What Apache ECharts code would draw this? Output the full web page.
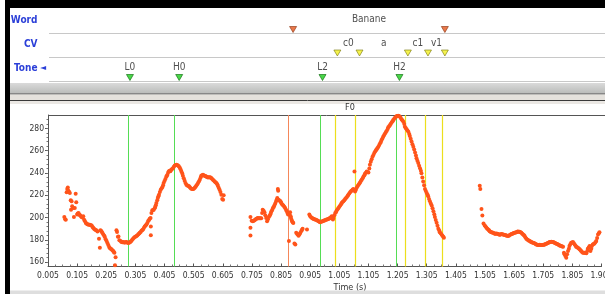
<!DOCTYPE html>
<html>
<head>
<meta charset="utf-8">
<script src="https://cdn.jsdelivr.net/npm/echarts@6/dist/echarts.min.js"></script>
<style>
  html, body { margin: 0; padding: 0; background: #fff; }
  #chart { width: 605px; height: 294px; }
</style>
</head>
<body>
<div id="chart"></div>
<script>
// F0 track (time in s, F0 in Hz), one array per voiced stretch
const segA = [[0.061,200.5],[0.064,198.5],[0.066,198],[0.069,222.6],[0.071,225.5],[0.073,227],[0.075,224],[0.077,223],[0.080,222],[0.083,215.4],[0.086,214.5],[0.084,207],[0.088,210],[0.092,208.6],[0.094,200.5],[0.097,208.6],[0.100,221.4],[0.102,213.6],[0.105,202.6],[0.107,203.5],[0.110,204],[0.113,202.5],[0.115,202],[0.118,201],[0.120,200.5],[0.123,200],[0.126,201],[0.129,198],[0.132,196.7],[0.135,195],[0.137,194.6],[0.140,194],[0.143,193.7],[0.146,193.5],[0.149,193.4],[0.152,193],[0.155,192.8],[0.158,191.5],[0.160,190.7],[0.163,190],[0.166,189.2],[0.169,188.8],[0.172,188.3],[0.175,187.5],[0.180,181],[0.183,172.9],[0.185,188.5],[0.187,188],[0.190,187],[0.192,186],[0.195,184.8],[0.198,183.5],[0.200,182.4],[0.203,180.5],[0.206,178.8],[0.209,177],[0.212,175.2],[0.215,173.5],[0.217,172.6],[0.220,172],[0.223,171.4],[0.226,170.5],[0.229,169.9],[0.231,169],[0.233,168.4],[0.237,164.2],[0.235,157.1]];
const segB = [[0.240,188.6],[0.242,187],[0.245,182.7],[0.247,183],[0.250,179.5],[0.254,178.8],[0.257,178],[0.260,177.8],[0.263,177.9],[0.266,177.5],[0.269,177.6],[0.272,177.8],[0.274,178],[0.277,177.5],[0.280,177.2],[0.283,177.3],[0.286,177.8],[0.288,178.2],[0.291,178.8],[0.294,180],[0.297,181],[0.300,181.8],[0.303,182.5],[0.306,183],[0.309,183.3],[0.312,184],[0.315,185],[0.318,185.7],[0.320,186.2],[0.323,187],[0.326,188],[0.329,188.8],[0.331,189.2],[0.334,190.5],[0.337,191.8],[0.340,192.8],[0.343,193.7],[0.346,195],[0.349,196.8],[0.351,197.6],[0.354,198.8],[0.357,199.6],[0.358,192],[0.358,184],[0.360,204],[0.363,206.5],[0.366,206.8],[0.368,207],[0.371,208.3],[0.373,209.5],[0.375,211],[0.377,213],[0.380,215.5],[0.382,217.5],[0.384,219],[0.386,220.5],[0.389,222.8],[0.392,225],[0.395,226.2],[0.398,227.3],[0.400,229],[0.402,231],[0.405,232.8],[0.408,234.5],[0.411,236.5],[0.413,237.5],[0.415,238.3],[0.418,240.5],[0.420,241.5],[0.423,241.9],[0.425,241.6],[0.428,242.8],[0.431,243.5],[0.434,244.3],[0.437,245.5],[0.440,246.7],[0.443,247],[0.446,247.3],[0.449,247],[0.451,246.7],[0.454,246],[0.457,244.9],[0.460,243.2],[0.463,241.3],[0.466,239.5],[0.468,237.4],[0.471,235.2],[0.474,233],[0.477,231],[0.480,229.4],[0.483,228.8],[0.486,228.5],[0.489,228],[0.491,227.3],[0.494,226.5],[0.497,225.8],[0.500,225.6],[0.503,225.5],[0.505,225.8],[0.508,226.4],[0.511,227.3],[0.514,228.5],[0.517,229.6],[0.520,230.9],[0.523,232.3],[0.526,233.9],[0.529,235.8],[0.531,237.4],[0.534,238],[0.537,238.3],[0.540,237.8],[0.543,237.4],[0.546,237],[0.548,236.8],[0.551,236.4],[0.554,236],[0.557,236.1],[0.560,236.2],[0.563,235.8],[0.565,235.4],[0.568,234.7],[0.571,233.9],[0.574,233.2],[0.577,232.4],[0.580,231.7],[0.583,230.9],[0.586,229.8],[0.588,228.5],[0.591,226.8],[0.594,225],[0.597,222.8],[0.600,220.5],[0.603,216.6],[0.606,216],[0.608,219.9]];
const segC = [[0.700,200.5],[0.700,190.7],[0.700,183.9],[0.704,197],[0.708,196.7],[0.711,197],[0.714,197.6],[0.717,198.2],[0.720,198.8],[0.723,199.2],[0.725,199.6],[0.728,199.4],[0.731,199.3],[0.734,199.3],[0.737,199.3],[0.740,204],[0.742,207],[0.745,206],[0.748,204.7],[0.751,202],[0.754,199.6],[0.757,196.7],[0.760,198.5],[0.763,200.5],[0.766,201.5],[0.768,202.6],[0.770,204],[0.772,205.6],[0.775,207],[0.777,208.6],[0.780,209.5],[0.782,210.7],[0.785,212.5],[0.788,214.5],[0.790,216],[0.792,217.5],[0.794,225.5],[0.795,224],[0.797,216],[0.800,215],[0.803,214.5],[0.805,213.5],[0.807,212.4],[0.810,211.5],[0.813,210.7],[0.816,209.7],[0.819,208.6],[0.822,207],[0.825,205.6],[0.827,204],[0.829,202.6],[0.832,178.8],[0.834,203],[0.836,204.7],[0.838,201],[0.839,199.6],[0.841,198],[0.843,196.7],[0.845,195.8],[0.847,195],[0.851,176.7],[0.854,175.8],[0.857,186.2],[0.860,185.5],[0.862,184.8],[0.865,183.5],[0.868,184.8],[0.871,186],[0.874,187.7],[0.877,189],[0.879,189.8],[0.894,189.2]];
const segD = [[0.902,202.6],[0.905,201],[0.908,200.2],[0.911,199.6],[0.914,199.2],[0.916,198.8],[0.919,198.5],[0.922,198.2],[0.925,197.9],[0.928,197.6],[0.931,197.1],[0.934,196.7],[0.937,196.2],[0.939,195.8],[0.942,196.1],[0.945,196.4],[0.948,196.7],[0.951,197],[0.954,197.3],[0.956,197.6],[0.959,197.9],[0.962,198.2],[0.965,198.5],[0.968,198.8],[0.971,199.2],[0.973,199.6],[0.976,200.3],[0.979,201],[0.983,198.2],[0.985,199.6],[0.988,202],[0.991,204],[0.994,205],[0.996,206.2],[0.999,207.4],[1.002,208.6],[1.005,209.6],[1.008,210.7],[1.011,211.8],[1.013,213],[1.016,213.8],[1.019,214.5],[1.022,215.5],[1.025,216.6],[1.028,217.5],[1.031,218.4],[1.034,219.5],[1.036,220.5],[1.039,221.5],[1.042,222.6],[1.045,223.5],[1.048,224.3],[1.051,225],[1.053,225.5],[1.057,241.3],[1.059,223.4],[1.062,225],[1.065,227],[1.068,228.2],[1.071,229.4],[1.074,230.5],[1.076,231.5],[1.079,232.7],[1.082,233.9],[1.085,235.3],[1.088,236.8],[1.091,238],[1.093,239.2],[1.096,240.2],[1.099,241.3],[1.102,240.8],[1.105,240.4],[1.108,244],[1.110,247.3],[1.113,250],[1.116,252.3],[1.119,254.5],[1.122,256.2],[1.125,257.8],[1.128,259.2],[1.131,260.3],[1.133,261.3],[1.136,262.4],[1.139,263.6],[1.142,265],[1.145,266.6],[1.148,268],[1.150,269.6],[1.153,271],[1.156,272.6],[1.159,274],[1.162,275.5],[1.165,276.7],[1.168,277.9],[1.171,279.5],[1.173,280.9],[1.176,282],[1.179,283],[1.182,284.2],[1.185,285.4],[1.188,286.4],[1.190,287.4],[1.193,288.5],[1.196,289.5],[1.199,290.3],[1.202,291],[1.205,291.2],[1.207,291.3],[1.210,291],[1.213,290.4],[1.216,289.2],[1.219,288],[1.222,287],[1.225,286],[1.228,283.9],[1.230,281.5],[1.233,280.3],[1.236,279.1],[1.239,278],[1.242,277],[1.245,275],[1.247,273.2],[1.250,270.6],[1.253,268.1],[1.256,265.8],[1.259,263.6],[1.262,261],[1.265,258.3],[1.268,255.7],[1.270,253.2],[1.273,251],[1.276,248.8],[1.279,246.5],[1.282,244.3],[1.285,242],[1.287,239.8],[1.290,236],[1.293,232.4],[1.296,229],[1.299,225.5],[1.302,223.7],[1.305,222],[1.308,220.5],[1.310,219],[1.313,216.7],[1.316,214.5],[1.319,212.6],[1.322,210.7],[1.325,208.2],[1.328,205.6],[1.331,203],[1.333,200.5],[1.336,197.8],[1.339,195.2],[1.342,192.5],[1.345,189.8],[1.348,188.3],[1.350,186.8],[1.353,185.8],[1.356,184.8],[1.359,183.7],[1.362,182.7],[1.364,181.8]];
const segE = [[1.487,228.5],[1.489,225.5],[1.493,207.7],[1.496,201.7],[1.500,194.6],[1.504,192.8],[1.507,191.8],[1.510,190.7],[1.513,190],[1.516,189.2],[1.519,188.5],[1.521,187.7],[1.524,187.2],[1.527,186.8],[1.530,186.5],[1.533,186.2],[1.536,185.8],[1.539,185.4],[1.541,185.5],[1.544,185.7],[1.547,185.4],[1.550,185.1],[1.553,184.8],[1.556,184.5],[1.558,184.8],[1.561,185.1],[1.564,185],[1.567,184.8],[1.570,184.5],[1.573,184.2],[1.576,184],[1.578,183.9],[1.581,183.6],[1.584,183.3],[1.587,183.7],[1.590,184.2],[1.593,184.7],[1.596,185.1],[1.599,185.4],[1.601,185.7],[1.604,186],[1.607,186.2],[1.610,186.5],[1.613,186.8],[1.616,187.1],[1.618,187.4],[1.621,187.3],[1.624,187.1],[1.627,186.7],[1.630,186.2],[1.633,185.5],[1.636,184.8],[1.639,184],[1.641,183.3],[1.644,182],[1.647,180.9],[1.650,180.3],[1.653,179.7],[1.656,179.2],[1.659,178.8],[1.662,178.3],[1.664,177.9],[1.667,177.6],[1.670,177.3],[1.673,177],[1.676,176.7],[1.679,176.2],[1.681,175.8],[1.684,175.5],[1.687,175.2],[1.690,175.4],[1.693,175.5],[1.696,175.3],[1.699,175.2],[1.702,175.4],[1.705,175.5],[1.708,175.6],[1.710,175.8],[1.713,176.1],[1.716,176.4],[1.719,176.8],[1.722,177.3],[1.725,177.6],[1.727,177.9],[1.730,178],[1.733,178.2],[1.736,178],[1.739,177.9],[1.742,177.6],[1.744,177.3],[1.747,176.8],[1.750,176.4],[1.753,176.1],[1.756,175.8],[1.759,175.3],[1.761,174.9],[1.764,174.6],[1.767,174.3],[1.770,174],[1.773,173.7],[1.776,168.4],[1.778,167],[1.781,165.4],[1.784,163.9],[1.787,167],[1.790,169.9],[1.793,172],[1.795,174.3],[1.798,176],[1.801,177.3],[1.804,177.6],[1.807,177.9],[1.810,176.8],[1.813,175.8],[1.816,174.7],[1.818,173.7],[1.821,173.3],[1.824,172.9],[1.827,172.1],[1.830,171.4],[1.833,170.6],[1.835,169.9],[1.838,169.1],[1.841,168.4],[1.844,168.4],[1.847,168.4],[1.850,168.1],[1.853,167.8],[1.856,170],[1.858,172],[1.861,173],[1.864,174.3],[1.867,169.9],[1.870,172],[1.872,174.3],[1.875,175.8],[1.878,176.3],[1.881,176.7],[1.884,177.8],[1.887,178.8],[1.890,181.5],[1.893,184.8],[1.896,185.8],[1.898,186.8]];

// annotation tiers
const wordBounds = [0.835, 1.356];
const wordLabels = ['Banane'];
const cvBounds = [0.987, 1.063, 1.229, 1.298, 1.356];
const cvLabels = ['c0', 'a', 'c1', 'v1'];
const toneTimes = [0.275, 0.444, 0.936, 1.200];
const toneLabels = ['L0', 'H0', 'L2', 'H2'];

// axis ticks
const timeTicks = [0.005,0.105,0.205,0.305,0.405,0.505,0.605,0.705,0.805,0.905,1.005,1.105,1.205,1.305,1.405,1.505,1.605,1.705,1.805,1.905];
const f0Ticks = [160,180,200,220,240,260,280];

const FONT = "'Liberation Sans Narrow','DejaVu Sans Condensed',sans-serif";
const T_MIN = 0.005, T_MAX = 1.905;

// minor ticks: 4 subdivisions between labelled ticks
const minorTime = [];
for (let i = 0; i < timeTicks.length - 1; i++) {
  for (let k = 1; k < 4; k++) minorTime.push(+(timeTicks[i] + k * 0.025).toFixed(4));
}
const minorF0 = [];
for (let v = 160; v <= 290; v += 4) minorF0.push(v);

// vertical row positions inside the tier strip (px from its top)
const ROW = { word: [21.5, 11.5], cv: [45, 35], tone: [69.5, 59.5] };

function mids(bounds, labels, y) {
  return labels.map((l, i) => ({ value: [(bounds[i] + bounds[i + 1]) / 2, y], label: { formatter: l } }));
}
function marks(times, y) {
  return times.map(t => [t, y]);
}

const chart = echarts.init(document.getElementById('chart'), null, { renderer: 'canvas' });

const tierMark = (name, data, fill, stroke) => ({
  name, type: 'scatter', xAxisIndex: 2, yAxisIndex: 2, data,
  symbol: 'triangle', symbolRotate: 180, symbolSize: [7, 6],
  itemStyle: { color: fill, borderColor: stroke, borderWidth: 0.8 },
  silent: true, z: 5
});
const tierText = (name, data) => ({
  name, type: 'scatter', xAxisIndex: 2, yAxisIndex: 2, data,
  symbolSize: 1, itemStyle: { color: 'rgba(0,0,0,0)' },
  label: { show: true, position: 'inside', color: '#222', fontSize: 10, fontFamily: FONT },
  silent: true, z: 5
});
const boundaryLines = (name, times, color, z, width) => ({
  name, type: 'line', xAxisIndex: 0, yAxisIndex: 0, data: [], z,
  color,
  markLine: {
    silent: true, z, symbol: ['none', 'none'], label: { show: false },
    lineStyle: { color, width, type: 'solid', opacity: 1 },
    emphasis: { disabled: true },
    data: times.map(t => ({ xAxis: t }))
  }
});

const option = {
  animation: false,
  backgroundColor: '#fff',
  grid: [
    { left: 48, right: 3.5, top: 115, height: 151.5, outerBoundsMode: 'none', containLabel: false },
    { left: 51.3, right: 0.2, top: 8, height: 75, outerBoundsMode: 'none', containLabel: false }
  ],
  xAxis: [
    {
      type: 'value', gridIndex: 0, min: T_MIN, max: T_MAX, position: 'bottom',
      axisLine: { lineStyle: { color: '#555' } },
      axisTick: { customValues: timeTicks, length: 3, inside: true, lineStyle: { color: '#555' } },
      axisLabel: { customValues: timeTicks, formatter: v => v.toFixed(3), color: '#333', fontSize: 8.5, fontFamily: FONT, margin: 5 },
      splitLine: { show: false }
    },
    {
      type: 'value', gridIndex: 0, min: T_MIN, max: T_MAX, position: 'bottom',
      axisLine: { show: false },
      axisTick: { customValues: minorTime, length: 2, inside: true, lineStyle: { color: '#777' } },
      axisLabel: { show: false }, splitLine: { show: false }
    },
    { type: 'value', gridIndex: 1, min: T_MIN, max: T_MAX, show: false }
  ],
  yAxis: [
    {
      type: 'value', gridIndex: 0, min: 156, max: 292, position: 'left',
      axisLine: { show: true, lineStyle: { color: '#555' } },
      axisTick: { show: true, customValues: f0Ticks, length: 3, lineStyle: { color: '#555' } },
      axisLabel: { customValues: f0Ticks, color: '#333', fontSize: 8.5, fontFamily: FONT, margin: 4 },
      splitLine: { show: false }
    },
    {
      type: 'value', gridIndex: 0, min: 156, max: 292, position: 'left', offset: 0,
      axisLine: { show: false },
      axisTick: { show: true, customValues: minorF0, length: 1.5, lineStyle: { color: '#777' } },
      axisLabel: { show: false }, splitLine: { show: false }
    },
    { type: 'value', gridIndex: 1, min: 0, max: 75, inverse: true, show: false }
  ],
  series: [
    boundaryLines('word', wordBounds, '#f5875a', 1, 1),
    boundaryLines('cv', cvBounds, '#ecdf1c', 1.1, 1.2),
    boundaryLines('tone', toneTimes, '#55dd55', 1.2, 1),
    {
      name: 'F0', type: 'scatter', xAxisIndex: 0, yAxisIndex: 0,
      data: [].concat(segA, segB, segC, segD, segE),
      symbolSize: 4, itemStyle: { color: '#ff541a', opacity: 1 },
      silent: true, z: 3
    },
    tierMark('wordMark', marks(wordBounds, ROW.word[0]), '#e4561d', '#8c3512'),
    tierMark('cvMark', marks(cvBounds, ROW.cv[0]), '#f2f020', '#7c7a12'),
    tierMark('toneMark', marks(toneTimes, ROW.tone[0]), '#1ccc1c', '#0b6b0b'),
    tierText('wordText', mids(wordBounds, wordLabels, ROW.word[1])),
    tierText('cvText', mids(cvBounds, cvLabels, ROW.cv[1])),
    tierText('toneText', toneLabels.map((l, i) => ({ value: [toneTimes[i], ROW.tone[1]], label: { formatter: l } })))
  ],
  graphic: [
    // window frame
    { type: 'rect', shape: { x: 5, y: 0, width: 5, height: 294 }, style: { fill: '#000' }, z: 10 },
    { type: 'rect', shape: { x: 5, y: 0, width: 600, height: 8 }, style: { fill: '#000' }, z: 10 },
    // tier separators
    { type: 'line', shape: { x1: 49, y1: 33.5, x2: 605, y2: 33.5 }, style: { stroke: '#c8c8c8', lineWidth: 1 } },
    { type: 'line', shape: { x1: 49, y1: 57.5, x2: 605, y2: 57.5 }, style: { stroke: '#c8c8c8', lineWidth: 1 } },
    { type: 'line', shape: { x1: 49, y1: 81.5, x2: 605, y2: 81.5 }, style: { stroke: '#c8c8c8', lineWidth: 1 } },
    // tier names
    { type: 'text', style: { text: 'Word', x: 37.5, y: 20, align: 'right', verticalAlign: 'middle', fill: '#2b3fd8', font: 'bold 10px ' + FONT } },
    { type: 'text', style: { text: 'CV', x: 37.5, y: 44, align: 'right', verticalAlign: 'middle', fill: '#2b3fd8', font: 'bold 10px ' + FONT } },
    { type: 'text', style: { text: 'Tone', x: 37.5, y: 68, align: 'right', verticalAlign: 'middle', fill: '#2b3fd8', font: 'bold 10px ' + FONT } },
    { type: 'text', style: { text: '◄', x: 43, y: 68, align: 'center', verticalAlign: 'middle', fill: '#2b3fd8', font: '8px DejaVu Sans' } },
    // splitter bar between panels
    { type: 'rect', shape: { x: 10, y: 83, width: 595, height: 10.5 },
      style: { fill: new echarts.graphic.LinearGradient(0, 0, 0, 1, [{ offset: 0, color: '#dadada' }, { offset: 1, color: '#b9bbb9' }]) } },
    { type: 'line', shape: { x1: 10, y1: 94, x2: 605, y2: 94 }, style: { stroke: '#333', lineWidth: 1.2 } },
    { type: 'rect', shape: { x: 10, y: 94.6, width: 595, height: 5.4 }, style: { fill: '#e4e1dc' } },
    { type: 'line', shape: { x1: 10, y1: 100.5, x2: 605, y2: 100.5 }, style: { stroke: '#3a3a3a', lineWidth: 1 } },
    { type: 'rect', shape: { x: 10, y: 101, width: 595, height: 3 }, style: { fill: '#ebe8e4' } },
    // plot frame top
    { type: 'line', shape: { x1: 48, y1: 115.5, x2: 605, y2: 115.5 }, style: { stroke: '#555', lineWidth: 1 } },
    { type: 'text', style: { text: 'F0', x: 350, y: 108, align: 'center', verticalAlign: 'middle', fill: '#333', font: '9px ' + FONT } },
    { type: 'text', style: { text: 'Time (s)', x: 350, y: 287.5, align: 'center', verticalAlign: 'middle', fill: '#333', font: '9px ' + FONT } },
    // bottom strip
    { type: 'rect', shape: { x: 10, y: 290.5, width: 595, height: 3.5 }, style: { fill: '#dedede' } }
  ]
};

chart.setOption(option);
</script>
</body>
</html>
